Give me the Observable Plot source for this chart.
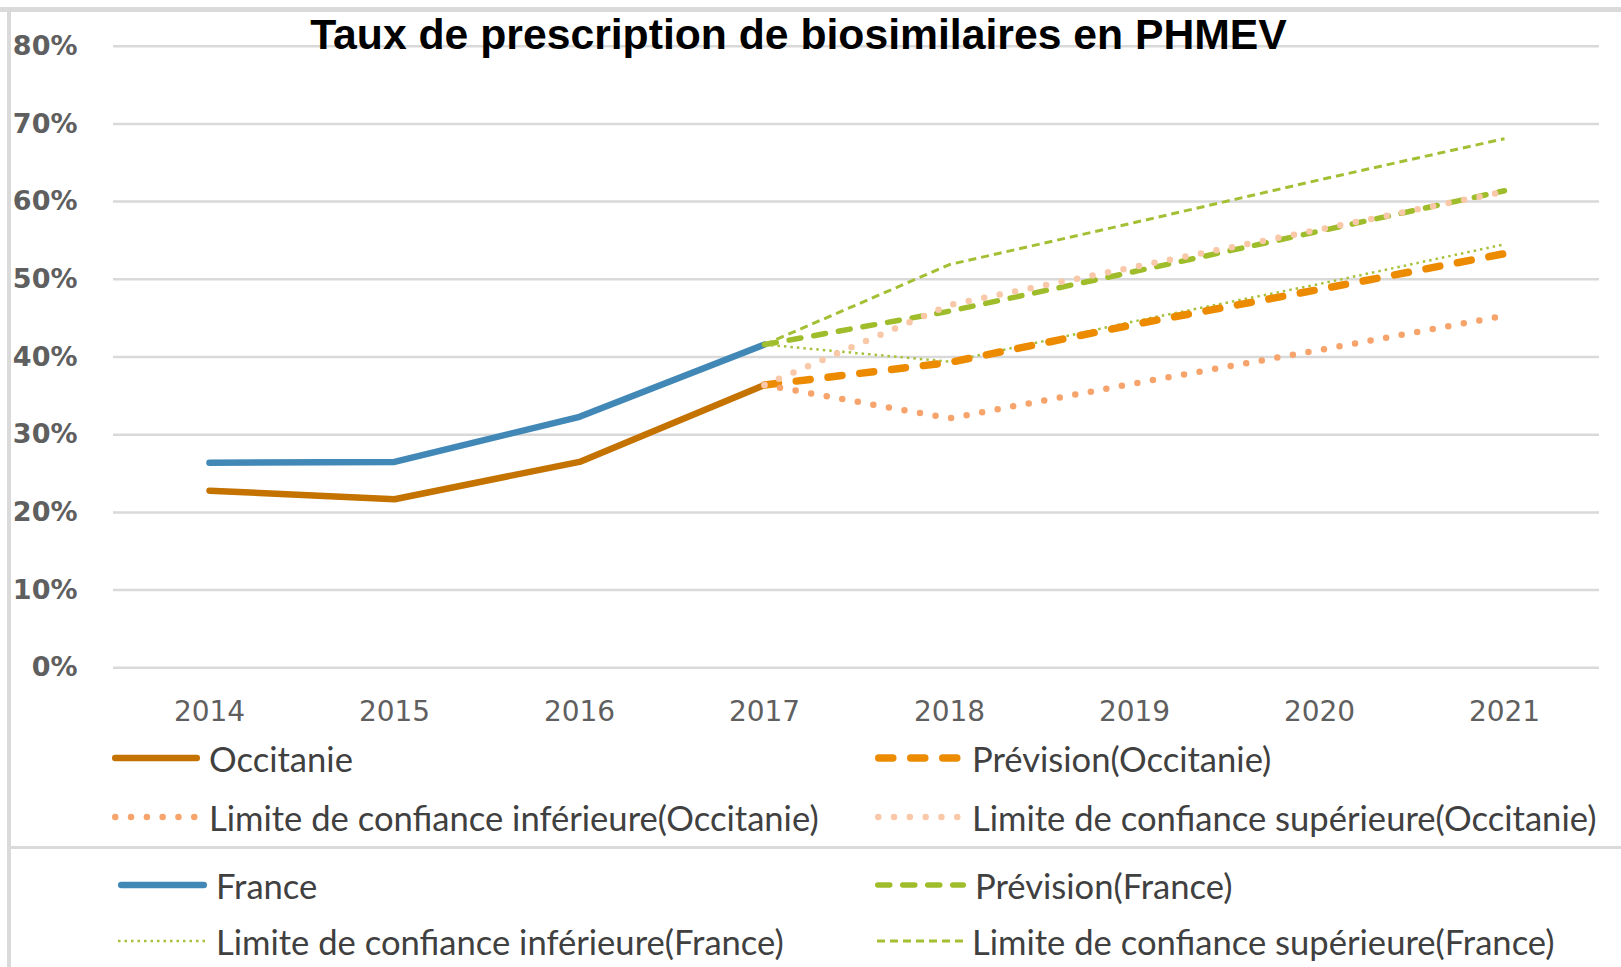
<!DOCTYPE html>
<html><head><meta charset="utf-8">
<script src="https://cdn.jsdelivr.net/npm/d3@7"></script>
<script src="https://cdn.jsdelivr.net/npm/@observablehq/plot@0.6"></script>
<style>
body{margin:0;background:#fff;}
#wrap{position:relative;width:1621px;height:967px;overflow:hidden;background:#fff;}
#wrap svg.plot{position:absolute;left:0;top:0;}
.frame{position:absolute;background:#dadada;}
#title{position:absolute;left:0;width:1597px;top:10px;text-align:center;font-family:"Liberation Sans",Arial,sans-serif;font-weight:bold;font-size:42.7px;color:#000;white-space:nowrap;line-height:48px;}
.leg{position:absolute;display:flex;align-items:center;height:40px;white-space:nowrap;}
.leg span{font-family:Lato,sans-serif;font-size:34.6px;color:#404040;margin-left:9px;}
</style></head><body><div id="wrap"></div>
<script>
// ---- data (values in %) ----
const years = ["2014","2015","2016","2017","2018","2019","2020","2021"];
const occitanie      = [22.8, 21.7, 26.5, 36.4, null, null, null, null];
const prevOccitanie  = [null, null, null, 36.4, 39.3, 44.2, 48.7, 53.3];
const lowOccitanie   = [null, null, null, 36.4, 32.1, 36.6, 40.9, 45.3];
const upOccitanie    = [null, null, null, 36.4, 46.7, 51.6, 56.4, 61.3];
const france         = [26.4, 26.5, 32.3, 41.6, null, null, null, null];
const prevFrance     = [null, null, null, 41.6, 45.9, 51.0, 56.2, 61.4];
const lowFrance      = [null, null, null, 41.6, 39.4, 44.6, 49.4, 54.5];
const upFrance       = [null, null, null, 41.6, 51.9, 57.3, 62.8, 68.1];
const yTicks = [0, 10, 20, 30, 40, 50, 60, 70, 80];
const titleText = "Taux de prescription de biosimilaires en PHMEV";
const seriesNames = [
  "Occitanie", "Prévision(Occitanie)",
  "Limite de confiance inférieure(Occitanie)", "Limite de confiance supérieure(Occitanie)",
  "France", "Prévision(France)",
  "Limite de confiance inférieure(France)", "Limite de confiance supérieure(France)"
];

// ---- styles ----
const styles = {
  "Occitanie": {values: occitanie, stroke:"#c47200", strokeWidth:6.5, dash:null, cap:"round"},
  "Prévision(Occitanie)": {values: prevOccitanie, stroke:"#ec8a00", strokeWidth:7.5, dash:"14,18", cap:"round"},
  "Limite de confiance inférieure(Occitanie)": {values: lowOccitanie, stroke:"#f7a46c", strokeWidth:6.5, dash:"0,15.8", cap:"round"},
  "Limite de confiance supérieure(Occitanie)": {values: upOccitanie, stroke:"#f9c8a8", strokeWidth:6.5, dash:"0,15.8", cap:"round"},
  "France": {values: france, stroke:"#4188b6", strokeWidth:6.5, dash:null, cap:"round"},
  "Prévision(France)": {values: prevFrance, stroke:"#9fbc2a", strokeWidth:5.5, dash:"12,13", cap:"round"},
  "Limite de confiance inférieure(France)": {values: lowFrance, stroke:"#a6c23c", strokeWidth:2.5, dash:"2.5,4", cap:"butt"},
  "Limite de confiance supérieure(France)": {values: upFrance, stroke:"#a3bf33", strokeWidth:3, dash:"8,5", cap:"butt"}
};
const drawOrder = [4,5,6,7,0,1,2,3];

const lineMarks = drawOrder.map(i => {
  const name = seriesNames[i], s = styles[name];
  const rows = years.map((yr, k) => ({year: yr, value: s.values[k]}));
  return Plot.line(rows, {
    x: "year", y: "value", stroke: s.stroke, strokeWidth: s.strokeWidth,
    strokeDasharray: s.dash || undefined, strokeLinecap: s.cap, strokeLinejoin: "round",
    curve: "linear"
  });
});

const chart = Plot.plot({
  width: 1621, height: 735,
  marginLeft: 113, marginRight: 22, marginTop: 45.7, marginBottom: 67.7,
  style: {background: "transparent", overflow: "visible"},
  x: {type: "point", domain: years, padding: 0.5},
  y: {domain: [0, 80]},
  marks: [
    Plot.ruleY(yTicks, {stroke: "#d9d9d9", strokeWidth: 2.5}),
    Plot.axisY(yTicks, {tickSize: 0, tickPadding: 36, tickFormat: d => d + "%",
      fontSize: 27, fontWeight: "bold", fill: "#5f5f5f", fontFamily: "DejaVu Sans", label: null}),
    Plot.axisX({tickSize: 0, tickPadding: 33, fontSize: 28, fill: "#5f5f5f", fontFamily: "DejaVu Sans", label: null}),
    ...lineMarks
  ]
});
chart.classList.add("plot");

const wrap = document.getElementById("wrap");
// frame
[[0,7,1621,4.5],[7,7,3.5,967],[7,846,1614,3]].forEach(([l,t,w,h]) => {
  const d = document.createElement("div"); d.className = "frame";
  Object.assign(d.style, {left:l+"px", top:t+"px", width:w+"px", height:h+"px"});
  wrap.appendChild(d);
});
wrap.appendChild(chart);

const title = document.createElement("div");
title.id = "title"; title.textContent = titleText;
wrap.appendChild(title);

// legend layout: [left of swatch, center y, swatch length]
const legendPos = [
  [112, 758, 88], [875, 758, 88],
  [112, 817, 88], [875, 817, 88],
  [118, 885, 89], [875, 885, 91],
  [118, 941, 89], [877, 941, 86]
];
seriesNames.forEach((name, i) => {
  const s = styles[name], [lx, cy, len] = legendPos[i];
  const div = document.createElement("div"); div.className = "leg";
  div.style.left = lx + "px"; div.style.top = (cy - 20) + "px";
  const ns = "http://www.w3.org/2000/svg";
  const sv = document.createElementNS(ns, "svg");
  sv.setAttribute("width", len); sv.setAttribute("height", 20);
  const ln = document.createElementNS(ns, "line");
  const pad = s.cap === "round" ? s.strokeWidth/2 : 0;
  ln.setAttribute("x1", pad); ln.setAttribute("x2", len - pad);
  ln.setAttribute("y1", 10); ln.setAttribute("y2", 10);
  ln.setAttribute("stroke", s.stroke); ln.setAttribute("stroke-width", s.strokeWidth);
  ln.setAttribute("stroke-linecap", s.cap);
  if (s.dash) ln.setAttribute("stroke-dasharray", s.dash);
  sv.appendChild(ln);
  div.appendChild(sv);
  const sp = document.createElement("span"); sp.textContent = name;
  div.appendChild(sp);
  wrap.appendChild(div);
});
document.body.appendChild(wrap);
</script>
</body></html>
